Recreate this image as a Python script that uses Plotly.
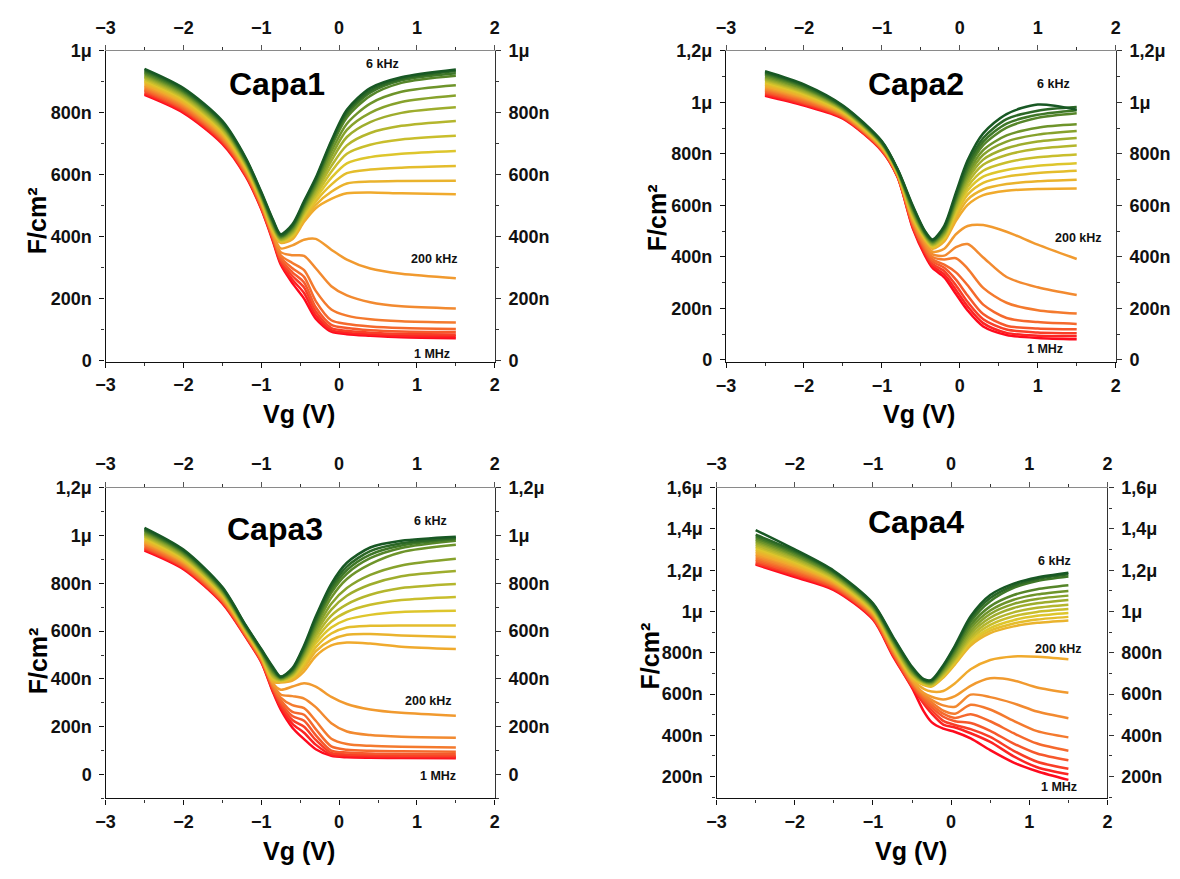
import plotly.graph_objects as go

# The page keeps the browser's default 8 px body margin, so the figure is 16 px
# smaller than the 1180x879 window and all reference-pixel positions are offset by 8.
PAGE_W, PAGE_H = 1180, 879
OFF = 8
W, H = PAGE_W - 2 * OFF, PAGE_H - 2 * OFF
FONT = "Liberation Sans, Arial, Helvetica, sans-serif"

# ---------------- data (capacitance in nF/cm^2) ----------------
VG_CAPA1 = [-2.5, -2.0, -1.5, -1.2, -1.0, -0.85, -0.75, -0.6, -0.45, -0.3, -0.1, 0.1, 0.4, 0.8, 1.5]
CAPA1 = [
    [942, 880, 774, 655, 545, 455, 408, 440, 515, 590, 710, 810, 880, 915, 940],
    [938, 876, 770, 652, 542, 452, 405, 435, 510, 585, 705, 803, 872, 910, 935],
    [934, 872, 767, 649, 539, 448, 402, 432, 505, 578, 698, 795, 865, 905, 928],
    [929, 868, 763, 646, 537, 445, 400, 428, 500, 572, 690, 785, 855, 897, 920],
    [925, 864, 759, 643, 534, 441, 397, 424, 495, 565, 675, 765, 830, 868, 889],
    [921, 860, 756, 640, 531, 438, 395, 420, 490, 558, 660, 745, 800, 835, 856],
    [917, 856, 752, 637, 528, 434, 392, 416, 485, 550, 645, 722, 770, 800, 818],
    [913, 852, 748, 634, 525, 431, 390, 412, 480, 542, 628, 695, 735, 758, 774],
    [908, 848, 744, 631, 523, 427, 388, 408, 474, 533, 610, 668, 697, 714, 726],
    [904, 844, 741, 628, 520, 424, 386, 404, 468, 524, 590, 637, 657, 668, 677],
    [900, 840, 737, 625, 517, 420, 384, 400, 462, 514, 568, 605, 617, 623, 628],
    [896, 836, 733, 622, 514, 417, 382, 396, 455, 503, 545, 572, 578, 580, 581],
    [892, 832, 730, 619, 511, 413, 380, 392, 448, 492, 522, 540, 543, 540, 537],
    [887, 828, 726, 616, 509, 410, 362, 372, 390, 393, 358, 326, 297, 280, 266],
    [883, 824, 722, 613, 506, 406, 350, 340, 338, 298, 240, 210, 188, 175, 168],
    [879, 820, 718, 610, 503, 403, 340, 315, 292, 225, 165, 145, 133, 127, 123],
    [875, 816, 715, 607, 500, 399, 333, 298, 270, 192, 130, 118, 110, 105, 102],
    [871, 812, 711, 604, 497, 396, 327, 285, 252, 172, 115, 105, 98, 94, 92],
    [866, 808, 707, 601, 495, 392, 321, 273, 236, 158, 105, 96, 90, 86, 84],
    [862, 804, 704, 598, 492, 389, 315, 261, 218, 146, 98, 90, 84, 80, 78],
    [858, 800, 700, 595, 489, 385, 310, 250, 200, 135, 93, 85, 80, 75, 72],
]

VG_CAPA2 = [-2.5, -2.0, -1.5, -1.0, -0.8, -0.6, -0.45, -0.35, -0.2, -0.05, 0.1, 0.3, 0.6, 1.0, 1.5]
CAPA2 = [
    [1121, 1070, 988, 849, 742, 597, 502, 468, 521, 650, 775, 880, 955, 992, 972],
    [1116, 1066, 985, 847, 740, 593, 499, 465, 515, 640, 760, 862, 935, 968, 982],
    [1112, 1062, 983, 845, 739, 588, 496, 462, 510, 632, 748, 848, 918, 952, 970],
    [1107, 1058, 980, 843, 737, 584, 493, 459, 505, 625, 737, 834, 902, 940, 958],
    [1102, 1054, 978, 841, 736, 579, 490, 456, 500, 617, 724, 815, 872, 902, 915],
    [1097, 1050, 975, 839, 734, 575, 487, 453, 495, 609, 712, 797, 848, 875, 889],
    [1092, 1045, 973, 838, 732, 570, 484, 450, 490, 601, 700, 778, 822, 848, 862],
    [1088, 1041, 970, 836, 731, 566, 481, 447, 485, 593, 687, 758, 796, 820, 833],
    [1083, 1037, 968, 834, 729, 561, 478, 444, 480, 584, 673, 735, 767, 787, 798],
    [1078, 1033, 965, 832, 728, 557, 475, 441, 475, 575, 658, 712, 738, 754, 764],
    [1074, 1029, 963, 830, 726, 553, 472, 438, 470, 565, 642, 688, 712, 726, 735],
    [1069, 1025, 960, 828, 724, 548, 469, 435, 465, 553, 623, 662, 683, 694, 700],
    [1064, 1021, 957, 826, 723, 544, 466, 432, 460, 540, 602, 640, 657, 664, 666],
    [1059, 1017, 955, 824, 721, 539, 458, 420, 432, 488, 520, 524, 498, 448, 392],
    [1054, 1013, 952, 822, 720, 535, 450, 410, 405, 438, 450, 398, 322, 282, 252],
    [1050, 1009, 950, 820, 718, 530, 442, 400, 390, 395, 355, 280, 222, 193, 180],
    [1045, 1004, 947, 819, 716, 526, 435, 390, 370, 340, 290, 215, 163, 147, 140],
    [1040, 1000, 945, 817, 715, 521, 428, 382, 358, 312, 250, 178, 133, 122, 119],
    [1036, 996, 942, 815, 713, 517, 422, 373, 345, 290, 225, 158, 118, 107, 104],
    [1031, 992, 940, 813, 712, 512, 415, 365, 332, 272, 208, 143, 105, 94, 92],
    [1026, 988, 937, 811, 710, 508, 407, 357, 321, 256, 192, 130, 97, 85, 80],
]

VG_CAPA3 = [-2.5, -2.0, -1.5, -1.2, -1.0, -0.85, -0.75, -0.6, -0.45, -0.3, -0.1, 0.1, 0.4, 0.8, 1.5]
CAPA3 = [
    [1032, 941, 784, 625, 525, 450, 410, 445, 540, 661, 798, 886, 950, 978, 995],
    [1027, 937, 781, 623, 522, 445, 408, 441, 533, 650, 785, 870, 935, 968, 990],
    [1023, 933, 777, 620, 520, 440, 406, 437, 526, 640, 772, 855, 920, 958, 985],
    [1018, 929, 774, 618, 517, 434, 404, 433, 519, 630, 760, 840, 905, 948, 978],
    [1013, 925, 770, 615, 514, 429, 402, 429, 512, 618, 740, 818, 880, 930, 961],
    [1008, 921, 767, 613, 511, 424, 400, 425, 504, 605, 715, 780, 835, 875, 903],
    [1004, 916, 764, 610, 509, 419, 398, 421, 496, 592, 690, 748, 795, 830, 852],
    [999, 912, 760, 608, 506, 413, 396, 417, 488, 578, 665, 712, 752, 780, 797],
    [994, 908, 757, 605, 503, 408, 394, 413, 479, 563, 640, 680, 710, 730, 743],
    [989, 904, 753, 603, 500, 403, 392, 409, 469, 548, 615, 648, 668, 680, 685],
    [985, 900, 750, 600, 498, 398, 390, 405, 458, 532, 590, 615, 622, 624, 624],
    [980, 896, 747, 598, 495, 392, 388, 399, 446, 515, 563, 585, 588, 582, 575],
    [975, 892, 743, 595, 492, 387, 385, 393, 432, 495, 540, 552, 548, 535, 525],
    [970, 888, 740, 593, 489, 382, 355, 368, 382, 368, 325, 295, 272, 258, 246],
    [965, 884, 736, 590, 486, 377, 335, 328, 318, 282, 215, 180, 165, 158, 154],
    [961, 880, 733, 588, 484, 371, 322, 290, 278, 225, 150, 128, 120, 116, 113],
    [956, 875, 730, 585, 481, 366, 312, 262, 250, 190, 118, 104, 99, 97, 95],
    [951, 871, 726, 583, 478, 361, 302, 245, 225, 165, 100, 92, 88, 86, 85],
    [946, 867, 723, 580, 475, 356, 293, 228, 200, 145, 90, 84, 81, 79, 78],
    [942, 863, 719, 578, 473, 350, 283, 212, 175, 125, 83, 77, 75, 73, 72],
    [937, 859, 716, 575, 470, 345, 272, 196, 148, 106, 78, 72, 70, 69, 68],
]

VG_CAPA4 = [-2.5, -2.0, -1.5, -1.0, -0.75, -0.5, -0.35, -0.25, -0.1, 0.05, 0.25, 0.5, 0.8, 1.1, 1.5]
CAPA4 = [
    [1395, 1301, 1198, 1040, 882, 732, 672, 669, 740, 835, 977, 1080, 1135, 1165, 1188],
    [1372, 1294, 1193, 1036, 877, 727, 670, 666, 735, 828, 965, 1065, 1125, 1157, 1180],
    [1364, 1288, 1189, 1032, 873, 722, 668, 663, 730, 820, 952, 1050, 1115, 1148, 1170],
    [1356, 1281, 1184, 1028, 868, 717, 665, 660, 724, 810, 935, 1025, 1080, 1108, 1127],
    [1348, 1274, 1179, 1024, 863, 712, 663, 657, 718, 800, 920, 1005, 1057, 1083, 1100],
    [1340, 1268, 1175, 1020, 859, 707, 660, 654, 712, 790, 905, 988, 1037, 1061, 1077],
    [1332, 1261, 1170, 1016, 854, 701, 658, 651, 706, 780, 892, 970, 1017, 1040, 1056],
    [1323, 1254, 1165, 1012, 849, 696, 655, 648, 700, 772, 878, 952, 996, 1018, 1033],
    [1315, 1247, 1160, 1008, 844, 691, 653, 645, 695, 764, 866, 935, 977, 998, 1012],
    [1307, 1241, 1156, 1004, 840, 686, 650, 642, 690, 757, 855, 920, 958, 979, 993],
    [1299, 1234, 1151, 1000, 835, 681, 647, 639, 685, 750, 845, 907, 942, 961, 974],
    [1291, 1227, 1146, 997, 830, 676, 644, 636, 680, 744, 835, 895, 928, 945, 957],
    [1283, 1221, 1142, 993, 826, 671, 625, 612, 615, 652, 720, 765, 782, 781, 769],
    [1275, 1214, 1137, 989, 821, 666, 605, 587, 574, 590, 640, 676, 666, 632, 606],
    [1267, 1207, 1132, 985, 816, 661, 598, 572, 545, 538, 597, 585, 555, 515, 483],
    [1259, 1201, 1128, 981, 812, 656, 590, 560, 520, 505, 548, 525, 470, 420, 390],
    [1251, 1194, 1123, 977, 807, 650, 582, 548, 505, 484, 502, 468, 410, 360, 325],
    [1243, 1187, 1118, 973, 802, 645, 573, 536, 490, 468, 460, 422, 360, 312, 279],
    [1235, 1180, 1113, 969, 797, 640, 563, 522, 470, 450, 430, 392, 325, 272, 238],
    [1231, 1174, 1109, 965, 793, 635, 553, 506, 452, 438, 410, 368, 298, 245, 211],
    [1227, 1167, 1104, 961, 788, 630, 516, 464, 432, 416, 385, 328, 268, 226, 184],
]

PANEL_NAMES = ["Capa1", "Capa2", "Capa3", "Capa4"]
FREQ_LABELS = ["6 kHz", "200 kHz", "1 MHz"]
X_TICKS = [-3, -2, -1, 0, 1, 2]
Y_TICK_VALUES = [0, 200, 400, 600, 800, 1000, 1200, 1400, 1600]
Y_TICK_TEXT = ["0", "200n", "400n", "600n", "800n", "1μ", "1,2μ", "1,4μ", "1,6μ"]

# ---------------- styling / layout ----------------
COLOR_STOPS = [
    (0.00, (24, 88, 36)),
    (0.12, (70, 125, 40)),
    (0.28, (150, 170, 45)),
    (0.45, (222, 198, 44)),
    (0.60, (240, 170, 45)),
    (0.68, (242, 145, 48)),
    (0.85, (246, 88, 44)),
    (1.00, (255, 10, 30)),
]


def grad(t):
    for (t0, c0), (t1, c1) in zip(COLOR_STOPS[:-1], COLOR_STOPS[1:]):
        if t <= t1:
            f = (t - t0) / (t1 - t0) if t1 > t0 else 0
            r, g, b = (round(a + (bb - a) * f) for a, bb in zip(c0, c1))
            return f"rgb({r},{g},{b})"
    r, g, b = COLOR_STOPS[-1][1]
    return f"rgb({r},{g},{b})"


# pixel boxes in window coordinates (left, right, top, bottom) and y ranges
PANELS = [
    dict(vg=VG_CAPA1, curves=CAPA1, box=(96.7, 491.0, 41.7, 359.3), yr=(-3.5, 1000), ymax=1000,
         lab=[(377, 55), (430, 254), (427, 352)], cap=(270, 75), ytitle=(28, 215), xtitle=(293, 413)),
    dict(vg=VG_CAPA2, curves=CAPA2, box=(725.3, 1120.0, 41.7, 360.0), yr=(-9, 1200), ymax=1200,
         lab=[(1057, 75), (1082, 233), (1048, 346)], cap=(918, 75), ytitle=(655, 212), xtitle=(921, 413)),
    dict(vg=VG_CAPA3, curves=CAPA3, box=(96.7, 491.0, 488.3, 806.0), yr=(-100, 1200), ymax=1200,
         lab=[(426, 522), (424, 706), (433, 783)], cap=(268, 530), ytitle=(28, 665), xtitle=(293, 860)),
    dict(vg=VG_CAPA4, curves=CAPA4, box=(715.7, 1111.7, 488.3, 806.0), yr=(94, 1600), ymax=1600,
         lab=[(1058, 563), (1062, 653), (1063, 794)], cap=(918, 523), ytitle=(648, 660), xtitle=(913, 860)),
]

fig = go.Figure()
annotations = []
tickfont = dict(family=FONT, size=18, color="#111", weight="bold")


def px2paper(x, y):
    return (x - OFF) / W, 1 - (y - OFF) / H


for k, p in enumerate(PANELS):
    ix, itop = 2 * k + 1, 2 * k + 2
    xa = "x" if ix == 1 else f"x{ix}"
    ya = "y" if ix == 1 else f"y{ix}"
    xt, yt = f"x{itop}", f"y{itop}"
    n = len(p["curves"])
    for i in reversed(range(n)):
        fig.add_trace(go.Scatter(
            x=p["vg"], y=p["curves"][i], mode="lines", xaxis=xa, yaxis=ya,
            line=dict(color=grad(i / (n - 1)), width=2.5, shape="spline", smoothing=0.8),
            showlegend=False, hoverinfo="skip"))
    fig.add_trace(go.Scatter(x=[None], y=[None], xaxis=xt, yaxis=yt, showlegend=False, hoverinfo="skip"))

    l, r, t, b = p["box"]
    x0, y1 = px2paper(l, t)
    x1, y0 = px2paper(r, b)
    xdom = [x0, x1]
    ydom = [y0, y1]
    yvals = [v for v in Y_TICK_VALUES if p["yr"][0] - 1 <= v <= p["ymax"]]
    ytext = [Y_TICK_TEXT[Y_TICK_VALUES.index(v)] for v in yvals]
    yminor = [v + 100 for v in range(-200, p["ymax"], 200) if p["yr"][0] <= v + 100 <= p["ymax"]]
    xminor = [-2.5, -1.5, -0.5, 0.5, 1.5]
    common_x = dict(range=[-3, 2], tickmode="array", tickvals=X_TICKS, ticks="outside", ticklen=5,
                    tickwidth=1.2, showgrid=False, zeroline=False, showline=True, linewidth=1.3,
                    tickfont=tickfont, minor=dict(tickmode="array", tickvals=xminor, ticks="outside",
                                                  ticklen=3, tickwidth=1, tickcolor="#333"))
    common_y = dict(range=list(p["yr"]), tickmode="array", tickvals=yvals, ticktext=ytext, ticks="outside",
                    ticklen=5, tickwidth=1.2, showgrid=False, zeroline=False, showline=True, linewidth=1.3,
                    tickfont=tickfont, minor=dict(tickmode="array", tickvals=yminor, ticks="outside",
                                                  ticklen=3, tickwidth=1, tickcolor="#333"))
    key = lambda a, i: a if i == 1 else f"{a}{i}"
    fig.update_layout({
        key("xaxis", ix): dict(domain=xdom, anchor=ya, side="bottom", linecolor="#111", tickcolor="#111",
                               ticklabelstandoff=2, **common_x),
        key("xaxis", itop): dict(overlaying=xa, anchor=ya, side="top", linecolor="#8a8a8a", tickcolor="#555",
                                 ticklabelstandoff=4, **common_x),
        key("yaxis", ix): dict(domain=ydom, anchor=xa, side="left", linecolor="#111", tickcolor="#111",
                               ticklabelstandoff=4, **common_y),
        key("yaxis", itop): dict(overlaying=ya, anchor=xa, side="right", linecolor="#333", tickcolor="#333",
                                 ticklabelstandoff=4, **common_y),
    })

    # labels
    for txt, (lx, ly) in zip(FREQ_LABELS, p["lab"]):
        px, py = px2paper(lx, ly)
        annotations.append(dict(x=px, y=py, xref="paper", yref="paper", text=txt, showarrow=False,
                                font=dict(family=FONT, size=12.5, color="#111", weight="bold"),
                                xanchor="center", yanchor="middle"))
    px, py = px2paper(*p["cap"])
    annotations.append(dict(x=px, y=py, xref="paper", yref="paper", text=PANEL_NAMES[k], showarrow=False,
                            font=dict(family=FONT, size=32, color="#000", weight="bold"),
                            xanchor="center", yanchor="middle"))
    px, py = px2paper(*p["ytitle"])
    annotations.append(dict(x=px, y=py, xref="paper", yref="paper", text="F/cm²", showarrow=False,
                            textangle=-90, font=dict(family=FONT, size=25, color="#000", weight="bold"),
                            xanchor="center", yanchor="middle"))
    px, py = px2paper(*p["xtitle"])
    annotations.append(dict(x=px, y=py, xref="paper", yref="paper", text="Vg (V)", showarrow=False,
                            font=dict(family=FONT, size=25, color="#000", weight="bold"),
                            xanchor="center", yanchor="middle"))

fig.update_layout(width=W, height=H, margin=dict(l=0, r=0, t=0, b=0), paper_bgcolor="white",
                  plot_bgcolor="white", showlegend=False, annotations=annotations,
                  font=dict(family=FONT))

fig.write_html("out.html", config={"displayModeBar": False})
